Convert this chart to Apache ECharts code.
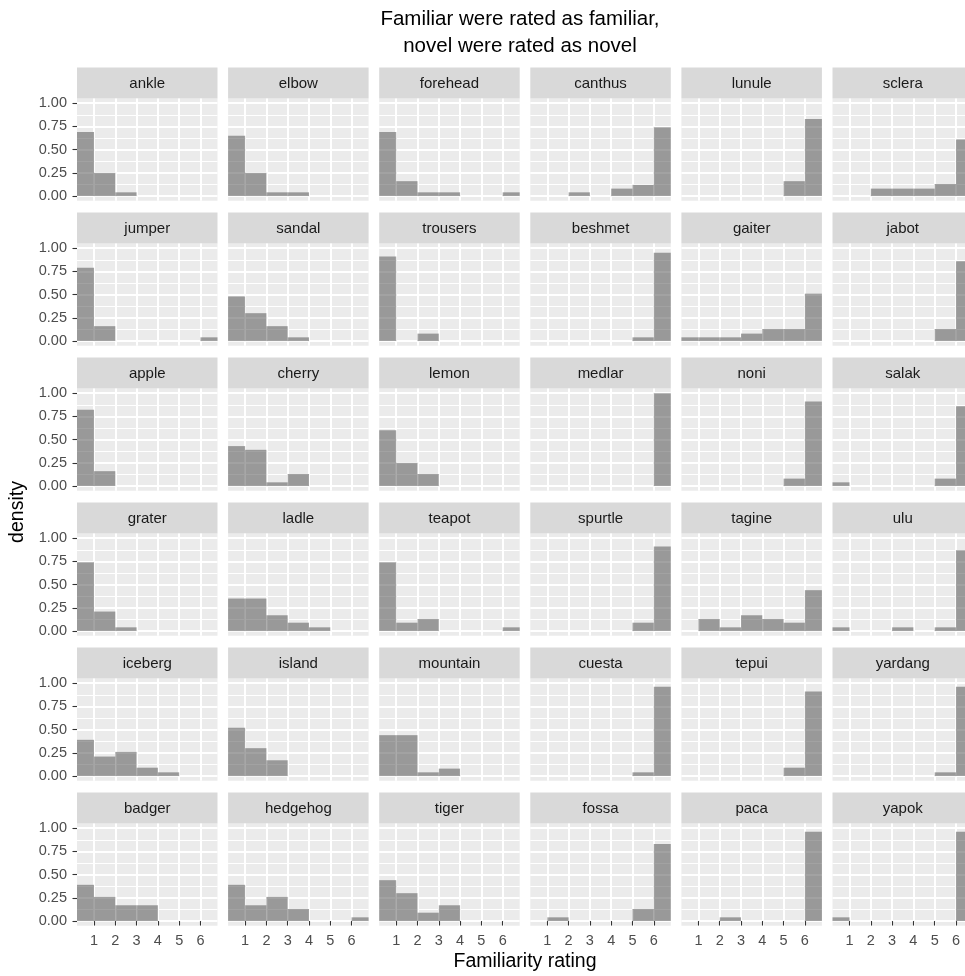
<!DOCTYPE html>
<html><head><meta charset="utf-8">
<script src="https://cdn.jsdelivr.net/npm/echarts@6/dist/echarts.min.js"></script>
<style>html,body{margin:0;padding:0;background:#fff;overflow:hidden}#c{width:965px;height:976px}</style>
</head><body><div id="c"></div>
<script>
// ---- data ----
const titleLines = ['Familiar were rated as familiar,', 'novel were rated as novel'];
const xTitle = 'Familiarity rating';
const yTitle = 'density';
const xTicks = [1, 2, 3, 4, 5, 6];
const yTicks = [0, 0.25, 0.5, 0.75, 1];
const yMinor = [0.125, 0.375, 0.625, 0.875];
const binStarts = [0, 1, 2, 3, 4, 5, 6];
const binWidth = 1;
const names = ['ankle','elbow','forehead','canthus','lunule','sclera',
  'jumper','sandal','trousers','beshmet','gaiter','jabot',
  'apple','cherry','lemon','medlar','noni','salak',
  'grater','ladle','teapot','spurtle','tagine','ulu',
  'iceberg','island','mountain','cuesta','tepui','yardang',
  'badger','hedgehog','tiger','fossa','paca','yapok'];
// density per bin (bins start at binStarts)
const ankle    = [0.69, 0.25, 0.04, 0, 0, 0, 0];
const elbow    = [0.65, 0.25, 0.04, 0.04, 0, 0, 0];
const forehead = [0.69, 0.16, 0.04, 0.04, 0, 0, 0.04];
const canthus  = [0, 0, 0.04, 0, 0.08, 0.12, 0.74];
const lunule   = [0, 0, 0, 0, 0, 0.16, 0.83];
const sclera   = [0, 0, 0.08, 0.08, 0.08, 0.13, 0.61];
const jumper   = [0.79, 0.16, 0, 0, 0, 0, 0.04];
const sandal   = [0.48, 0.30, 0.16, 0.04, 0, 0, 0];
const trousers = [0.91, 0, 0.08, 0, 0, 0, 0];
const beshmet  = [0, 0, 0, 0, 0, 0.04, 0.95];
const gaiter   = [0.04, 0.04, 0.04, 0.08, 0.13, 0.13, 0.51];
const jabot    = [0, 0, 0, 0, 0, 0.13, 0.86];
const apple    = [0.82, 0.16, 0, 0, 0, 0, 0];
const cherry   = [0.43, 0.39, 0.04, 0.13, 0, 0, 0];
const lemon    = [0.60, 0.25, 0.13, 0, 0, 0, 0];
const medlar   = [0, 0, 0, 0, 0, 0, 1.0];
const noni     = [0, 0, 0, 0, 0, 0.08, 0.91];
const salak    = [0.04, 0, 0, 0, 0, 0.08, 0.86];
const grater   = [0.74, 0.21, 0.04, 0, 0, 0, 0];
const ladle    = [0.35, 0.35, 0.17, 0.09, 0.04, 0, 0];
const teapot   = [0.74, 0.09, 0.13, 0, 0, 0, 0.04];
const spurtle  = [0, 0, 0, 0, 0, 0.09, 0.91];
const tagine   = [0, 0.13, 0.04, 0.17, 0.13, 0.09, 0.44];
const ulu      = [0.04, 0, 0, 0.04, 0, 0.04, 0.87];
const iceberg  = [0.39, 0.21, 0.26, 0.09, 0.04, 0, 0];
const island   = [0.52, 0.30, 0.17, 0, 0, 0, 0];
const mountain = [0.44, 0.44, 0.04, 0.08, 0, 0, 0];
const cuesta   = [0, 0, 0, 0, 0, 0.04, 0.96];
const tepui    = [0, 0, 0, 0, 0, 0.09, 0.91];
const yardang  = [0, 0, 0, 0, 0, 0.04, 0.96];
const badger   = [0.39, 0.26, 0.17, 0.17, 0, 0, 0];
const hedgehog = [0.39, 0.17, 0.26, 0.13, 0, 0, 0.04];
const tiger    = [0.44, 0.30, 0.09, 0.17, 0, 0, 0];
const fossa    = [0, 0.04, 0, 0, 0, 0.13, 0.83];
const paca     = [0, 0, 0.04, 0, 0, 0, 0.96];
const yapok    = [0.04, 0, 0, 0, 0, 0, 0.96];
const panelValues = [ankle, elbow, forehead, canthus, lunule, sclera,
  jumper, sandal, trousers, beshmet, gaiter, jabot,
  apple, cherry, lemon, medlar, noni, salak,
  grater, ladle, teapot, spurtle, tagine, ulu,
  iceberg, island, mountain, cuesta, tepui, yardang,
  badger, hedgehog, tiger, fossa, paca, yapok];

// ---- layout / style ----
const FONT = '"Liberation Sans", Arial, Helvetica, sans-serif';
const L0 = 77, DX = 151.1, PW = 140.5, T0 = 98.5, DY = 145, PH = 102.2, SH = 31;
const BAR = 'rgba(80,80,80,0.53)';

function renderItem(params, api) {
  const x0 = api.value(0), v = api.value(1);
  const p0 = api.coord([x0, v]);
  const p1 = api.coord([x0 + binWidth, 0]);
  const cs = params.coordSys;
  const shape = echarts.graphic.clipRectByRect(
    {x: p0[0], y: p0[1], width: p1[0] - p0[0], height: p1[1] - p0[1]},
    {x: cs.x, y: cs.y, width: cs.width, height: cs.height});
  if (!shape) return null;
  return {type: 'rect', shape: shape, style: {fill: BAR}};
}

const grids = [], xAxes = [], yAxes = [], series = [], graphics = [];
names.forEach((nm, i) => {
  const r = Math.floor(i / 6), c = i % 6;
  const left = L0 + DX * c, top = T0 + DY * r;
  grids.push({left: left, top: top, width: PW, height: PH, show: true,
    backgroundColor: '#EBEBEB', borderWidth: 0, containLabel: false, outerBoundsMode: 'none'});
  xAxes.push({gridIndex: i, type: 'value', min: 0.2, max: 6.8,
    axisLine: {show: false},
    axisTick: {show: r === 5, customValues: xTicks, length: 4.5, lineStyle: {color: '#333333', width: 1.1}},
    axisLabel: {show: r === 5, customValues: xTicks, color: '#4D4D4D', fontSize: 14.5, margin: 8, fontFamily: FONT},
    splitLine: {show: true, lineStyle: {color: '#FFFFFF', width: 2}}});
  yAxes.push({gridIndex: i, type: 'value', min: -0.05, max: 1.05, position: 'left',
    axisLine: {show: false},
    axisTick: {show: c === 0, customValues: yTicks, length: 4.5, lineStyle: {color: '#333333', width: 1.1}},
    axisLabel: {show: c === 0, customValues: yTicks, color: '#4D4D4D', fontSize: 14.5, margin: 10, fontFamily: FONT,
      formatter: v => Number(v).toFixed(2)},
    splitLine: {show: true, lineStyle: {color: '#FFFFFF', width: 2}}});
  yAxes.push({gridIndex: i, type: 'value', min: -0.05, max: 1.05, position: 'right',
    axisLine: {show: false},
    axisTick: {show: false, customValues: yMinor},
    axisLabel: {show: false},
    splitLine: {show: true, lineStyle: {color: '#FFFFFF', width: 1}}});
  const vals = panelValues[i];
  series.push({type: 'custom', xAxisIndex: i, yAxisIndex: 2 * i, renderItem: renderItem, silent: true,
    data: binStarts.map((b, k) => [b, vals[k]]).filter(d => d[1] > 0)});
  graphics.push({type: 'rect', shape: {x: left, y: top - SH, width: PW, height: SH},
    style: {fill: '#D9D9D9'}, silent: true});
  graphics.push({type: 'text', x: left + PW / 2, y: top - SH / 2 + 0.5, silent: true,
    style: {text: nm, fill: '#1A1A1A', font: '15px ' + FONT, align: 'center', verticalAlign: 'middle',
      textAlign: 'center', textVerticalAlign: 'middle'}});
});
titleLines.forEach((t, k) => {
  graphics.push({type: 'text', x: 520, y: 19 + 27 * k, silent: true,
    style: {text: t, fill: '#000000', font: '20.5px ' + FONT, align: 'center', verticalAlign: 'middle',
      textAlign: 'center', textVerticalAlign: 'middle'}});
});
graphics.push({type: 'text', x: 525, y: 962, silent: true,
  style: {text: xTitle, fill: '#000000', font: '19.5px ' + FONT, align: 'center', verticalAlign: 'middle',
    textAlign: 'center', textVerticalAlign: 'middle'}});
graphics.push({type: 'text', x: 18, y: 512, rotation: Math.PI / 2, silent: true,
  style: {text: yTitle, fill: '#000000', font: '19.5px ' + FONT, align: 'center', verticalAlign: 'middle',
    textAlign: 'center', textVerticalAlign: 'middle'}});

const chart = echarts.init(document.getElementById('c'), null, {renderer: 'canvas'});
chart.setOption({
  animation: false,
  backgroundColor: '#FFFFFF',
  grid: grids, xAxis: xAxes, yAxis: yAxes, series: series,
  graphic: {elements: graphics}
});
</script></body></html>
